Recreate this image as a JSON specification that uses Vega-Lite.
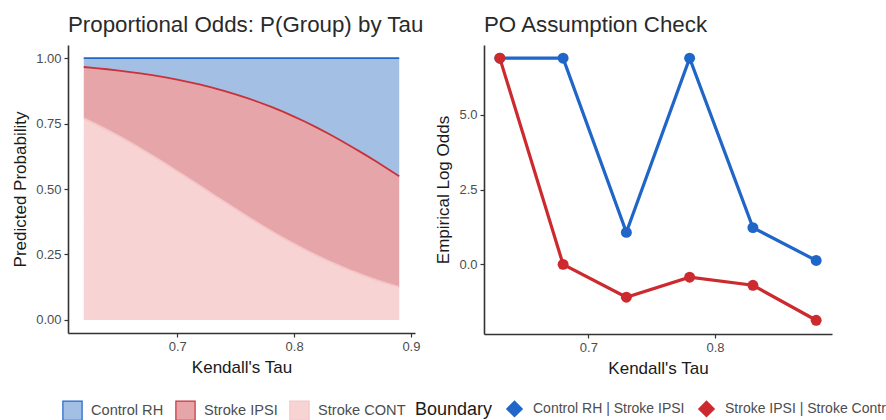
{
  "$schema": "https://vega.github.io/schema/vega-lite/v6.json",
  "background": "white",
  "padding": {"left": 11, "top": 13, "right": 0, "bottom": 0},
  "config": {
    "font": "Liberation Sans",
    "view": {"stroke": null},
    "axis": {"grid": false, "domainColor": "#333333", "domainWidth": 1.6, "tickColor": "#333333", "tickSize": 4, "tickWidth": 1.2, "labelColor": "#4d4d4d", "labelFontSize": 13, "labelPadding": 3, "titleColor": "#1a1a1a", "titleFontSize": 17, "titleFontWeight": "normal", "titlePadding": 6},
    "title": {"fontSize": 22.3, "fontWeight": "normal", "anchor": "start", "frame": "group", "color": "#2a2a2a", "offset": 9},
    "concat": {"spacing": 10},
    "legend": {"labelColor": "#4d4d4d", "titleColor": "#1a1a1a", "titleFontWeight": "normal"}
  },
  "datasets": {
    "probs": [
      {"tau": 0.62, "Stroke CONT": 0.7699, "Stroke IPSI": 0.1961, "Control RH": 0.0340},
      {"tau": 0.63, "Stroke CONT": 0.7486, "Stroke IPSI": 0.2133, "Control RH": 0.0381},
      {"tau": 0.64, "Stroke CONT": 0.7260, "Stroke IPSI": 0.2314, "Control RH": 0.0426},
      {"tau": 0.65, "Stroke CONT": 0.7022, "Stroke IPSI": 0.2502, "Control RH": 0.0476},
      {"tau": 0.66, "Stroke CONT": 0.6772, "Stroke IPSI": 0.2696, "Control RH": 0.0532},
      {"tau": 0.67, "Stroke CONT": 0.6512, "Stroke IPSI": 0.2894, "Control RH": 0.0594},
      {"tau": 0.68, "Stroke CONT": 0.6242, "Stroke IPSI": 0.3096, "Control RH": 0.0662},
      {"tau": 0.69, "Stroke CONT": 0.5965, "Stroke IPSI": 0.3297, "Control RH": 0.0738},
      {"tau": 0.70, "Stroke CONT": 0.5681, "Stroke IPSI": 0.3497, "Control RH": 0.0822},
      {"tau": 0.71, "Stroke CONT": 0.5392, "Stroke IPSI": 0.3693, "Control RH": 0.0915},
      {"tau": 0.72, "Stroke CONT": 0.5101, "Stroke IPSI": 0.3883, "Control RH": 0.1016},
      {"tau": 0.73, "Stroke CONT": 0.4810, "Stroke IPSI": 0.4062, "Control RH": 0.1128},
      {"tau": 0.74, "Stroke CONT": 0.4520, "Stroke IPSI": 0.4230, "Control RH": 0.1250},
      {"tau": 0.75, "Stroke CONT": 0.4232, "Stroke IPSI": 0.4385, "Control RH": 0.1383},
      {"tau": 0.76, "Stroke CONT": 0.3950, "Stroke IPSI": 0.4521, "Control RH": 0.1529},
      {"tau": 0.77, "Stroke CONT": 0.3675, "Stroke IPSI": 0.4639, "Control RH": 0.1686},
      {"tau": 0.78, "Stroke CONT": 0.3408, "Stroke IPSI": 0.4737, "Control RH": 0.1855},
      {"tau": 0.79, "Stroke CONT": 0.3151, "Stroke IPSI": 0.4811, "Control RH": 0.2038},
      {"tau": 0.80, "Stroke CONT": 0.2905, "Stroke IPSI": 0.4861, "Control RH": 0.2234},
      {"tau": 0.81, "Stroke CONT": 0.2670, "Stroke IPSI": 0.4887, "Control RH": 0.2443},
      {"tau": 0.82, "Stroke CONT": 0.2448, "Stroke IPSI": 0.4887, "Control RH": 0.2665},
      {"tau": 0.83, "Stroke CONT": 0.2239, "Stroke IPSI": 0.4862, "Control RH": 0.2899},
      {"tau": 0.84, "Stroke CONT": 0.2043, "Stroke IPSI": 0.4812, "Control RH": 0.3145},
      {"tau": 0.85, "Stroke CONT": 0.1860, "Stroke IPSI": 0.4738, "Control RH": 0.3402},
      {"tau": 0.86, "Stroke CONT": 0.1689, "Stroke IPSI": 0.4643, "Control RH": 0.3668},
      {"tau": 0.87, "Stroke CONT": 0.1532, "Stroke IPSI": 0.4525, "Control RH": 0.3943},
      {"tau": 0.88, "Stroke CONT": 0.1386, "Stroke IPSI": 0.4389, "Control RH": 0.4225},
      {"tau": 0.89, "Stroke CONT": 0.1253, "Stroke IPSI": 0.4235, "Control RH": 0.4512}
    ],
    "levels": [
      {"group": "Stroke CONT", "level": 1},
      {"group": "Stroke IPSI", "level": 2},
      {"group": "Control RH", "level": 3}
    ],
    "po": [
      {"tau": 0.63, "boundary": "Control RH | Stroke IPSI", "logodds": 6.9},
      {"tau": 0.68, "boundary": "Control RH | Stroke IPSI", "logodds": 6.9},
      {"tau": 0.73, "boundary": "Control RH | Stroke IPSI", "logodds": 1.07},
      {"tau": 0.78, "boundary": "Control RH | Stroke IPSI", "logodds": 6.9},
      {"tau": 0.83, "boundary": "Control RH | Stroke IPSI", "logodds": 1.23},
      {"tau": 0.88, "boundary": "Control RH | Stroke IPSI", "logodds": 0.13},
      {"tau": 0.63, "boundary": "Stroke IPSI | Stroke Contra", "logodds": 6.9},
      {"tau": 0.68, "boundary": "Stroke IPSI | Stroke Contra", "logodds": 0.0},
      {"tau": 0.73, "boundary": "Stroke IPSI | Stroke Contra", "logodds": -1.1},
      {"tau": 0.78, "boundary": "Stroke IPSI | Stroke Contra", "logodds": -0.43},
      {"tau": 0.83, "boundary": "Stroke IPSI | Stroke Contra", "logodds": -0.7},
      {"tau": 0.88, "boundary": "Stroke IPSI | Stroke Contra", "logodds": -1.87}
    ]
  },
  "hconcat": [
    {
      "width": 347,
      "height": 288,
      "title": {"text": "Proportional Odds: P(Group) by Tau"},
      "data": {"name": "probs"},
      "transform": [
        {"fold": ["Stroke CONT", "Stroke IPSI", "Control RH"], "as": ["group", "p"]},
        {"lookup": "group", "from": {"data": {"name": "levels"}, "key": "group", "fields": ["level"]}},
        {"stack": "p", "groupby": ["tau"], "sort": [{"field": "level", "order": "ascending"}], "as": ["p0", "p1"]}
      ],
      "encoding": {
        "x": {"field": "tau", "type": "quantitative", "scale": {"domain": [0.6065, 0.9035], "nice": false, "zero": false}, "axis": {"values": [0.7, 0.8, 0.9], "format": ".1f", "title": "Kendall's Tau"}}
      },
      "layer": [
        {
          "mark": {"type": "area", "opacity": 1},
          "encoding": {
            "y": {"field": "p0", "type": "quantitative", "scale": {"domain": [-0.05, 1.05], "nice": false, "zero": false}, "axis": {"values": [0, 0.25, 0.5, 0.75, 1], "format": ".2f", "title": "Predicted Probability"}},
            "y2": {"field": "p1"},
            "fill": {"field": "group", "type": "nominal", "scale": {"domain": ["Control RH", "Stroke IPSI", "Stroke CONT"], "range": ["#a4bfe4", "#e6a5a8", "#f7d3d4"]},
              "legend": {"title": null, "orient": "none", "legendX": -6, "legendY": 355, "direction": "horizontal", "symbolType": "square", "symbolSize": 370, "symbolStrokeWidth": 1.2, "symbolOpacity": 1, "labelFontSize": 14.6, "columnPadding": 9, "labelOffset": 8}}
          }
        },
        {
          "mark": {"type": "line", "strokeWidth": 1.8},
          "encoding": {
            "y": {"field": "p1", "type": "quantitative"},
            "stroke": {"field": "group", "type": "nominal", "scale": {"domain": ["Control RH", "Stroke IPSI", "Stroke CONT"], "range": ["#1f66c8", "#c8323a", "#f4c6c7"]},
              "legend": {"title": null, "orient": "none", "legendX": -6, "legendY": 355, "direction": "horizontal", "symbolType": "square", "symbolSize": 370, "symbolStrokeWidth": 1.2, "symbolOpacity": 1, "labelFontSize": 14.6, "columnPadding": 9, "labelOffset": 8}}
          }
        }
      ]
    },
    {
      "width": 348,
      "height": 289,
      "title": {"text": "PO Assumption Check"},
      "data": {"name": "po"},
      "encoding": {
        "x": {"field": "tau", "type": "quantitative", "scale": {"domain": [0.6175, 0.8925], "nice": false, "zero": false}, "axis": {"values": [0.7, 0.8], "format": ".1f", "title": "Kendall's Tau"}},
        "y": {"field": "logodds", "type": "quantitative", "scale": {"domain": [-2.33, 7.34], "nice": false, "zero": false}, "axis": {"values": [0, 2.5, 5], "format": ".1f", "title": "Empirical Log Odds"}},
        "color": {"field": "boundary", "type": "nominal", "scale": {"domain": ["Control RH | Stroke IPSI", "Stroke IPSI | Stroke Contra"], "range": ["#1f66c8", "#cc2a2f"]},
          "legend": {"title": "Boundary", "orient": "none", "legendX": 347, "legendY": 355, "direction": "horizontal", "titleOrient": "left", "titleFontSize": 18, "titlePadding": 13, "symbolType": "diamond", "symbolSize": 230, "labelFontSize": 14, "labelLimit": 400, "columnPadding": 10, "labelOffset": 10}}
      },
      "layer": [
        {"mark": {"type": "line", "strokeWidth": 3.2}, "encoding": {}},
        {"mark": {"type": "point", "filled": true, "size": 120, "opacity": 1}, "encoding": {}}
      ]
    }
  ]
}
